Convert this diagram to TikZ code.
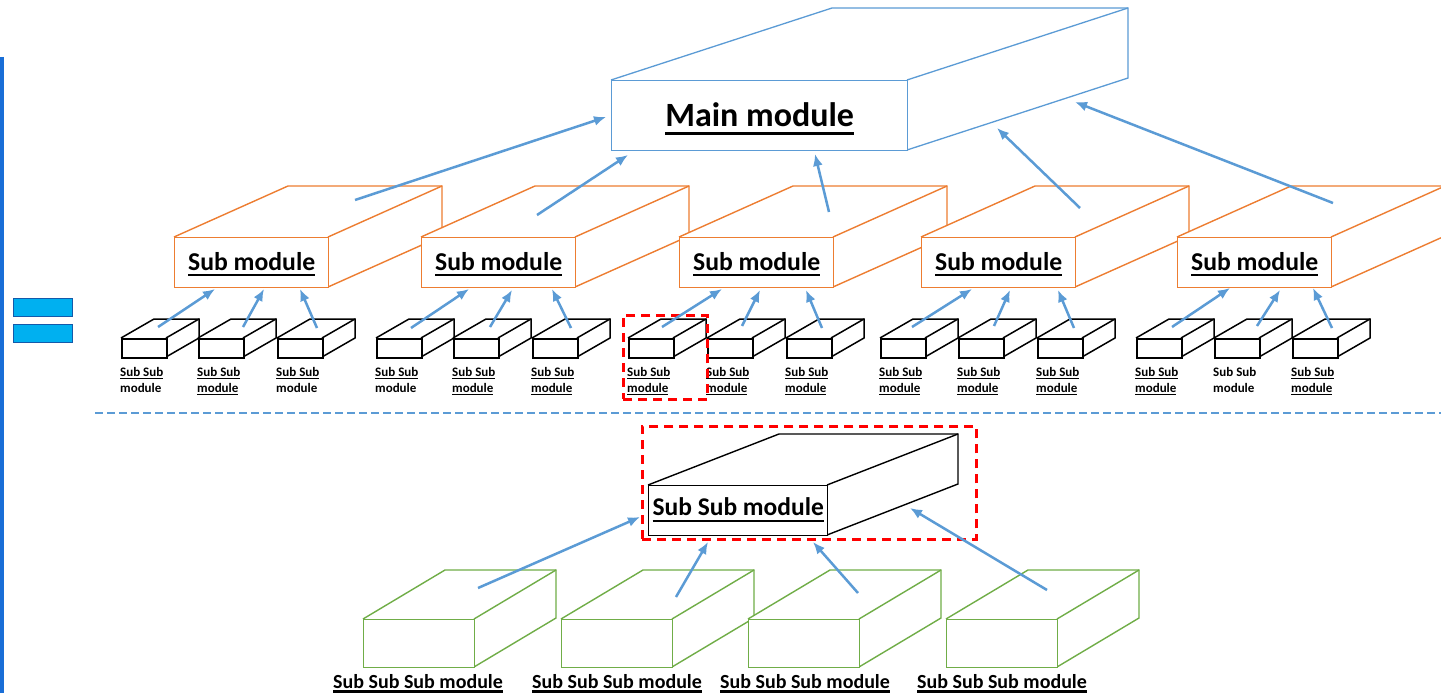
\documentclass[tikz,border=0pt]{standalone}
\usepackage{fontspec}
\setmainfont{Carlito}
\usetikzlibrary{arrows.meta}
\definecolor{mblue}{RGB}{91,155,213}
\definecolor{morange}{RGB}{237,125,49}
\definecolor{mgreen}{RGB}{112,173,71}
\definecolor{lblue}{RGB}{25,110,215}
\definecolor{cyanf}{RGB}{0,176,240}
\definecolor{cyand}{RGB}{20,90,170}
% underline: #1 depth below baseline, #2 thickness, #3 text
\newcommand\ulx[3]{\setbox0\hbox{#3}\leavevmode\rlap{\rule[-#1]{\wd0}{#2}}\box0}
% cuboid: #1 name, #2 x, #3 y (front top), #4 w, #5 h, #6 dx, #7 up, #8 style, #9 text
\newcommand\cuboid[9]{%
  \fill[white] (#2,#3) -- (#2+#6,#3-#7) -- (#2+#4+#6,#3-#7) -- (#2+#4+#6,#3+#5-#7) -- (#2+#4,#3+#5) -- (#2,#3+#5) -- cycle;
  \draw[#8] (#2,#3) -- (#2+#6,#3-#7) -- (#2+#4+#6,#3-#7) -- (#2+#4+#6,#3+#5-#7) -- (#2+#4,#3+#5);
  \draw[#8] (#2+#4,#3) -- (#2+#4+#6,#3-#7);
  \node[#8, draw, fill=white, minimum width=#4pt, minimum height=#5pt, anchor=north west, inner sep=0pt] (#1) at (#2,#3) {#9};
}
\newcommand\smU[1]{\ulx{2.5pt}{1.1pt}{#1}}
\newcommand\labB{\smU{Sub Sub}\\\smU{module}}
\newcommand\labH{\smU{Sub Sub}\\module}
\newcommand\labN{Sub Sub\\module}
% group of three small boxes: #1 id, #2-#4 x, #5-#7 labels
\newcommand\ssg[7]{%
  \cuboid{#1a}{#2}{338}{45}{19}{33}{19}{ssbox}{}
  \cuboid{#1b}{#3}{338}{45}{19}{33}{19}{ssbox}{}
  \cuboid{#1c}{#4}{338}{45}{19}{33}{19}{ssbox}{}
  \node[smalllab] (#1al) at (#2-1,367) {#5};
  \node[smalllab] (#1bl) at (#3-1,367) {#6};
  \node[smalllab] (#1cl) at (#4-1,367) {#7};
}
\tikzset{
  mainbox/.style={draw=mblue, line width=1.3pt, font=\fontsize{34}{40}\selectfont\bfseries, text height=30pt, text depth=8pt},
  subbox/.style={draw=morange, line width=1.4pt, font=\fontsize{25.7}{30}\selectfont\bfseries, text height=22pt, text depth=6pt},
  ssbox/.style={draw=black, line width=1.5pt},
  bigss/.style={draw=black, line width=1.4pt, font=\fontsize{25.5}{30}\selectfont\bfseries, text height=18pt, text depth=8pt},
  grbox/.style={draw=mgreen, line width=1.4pt},
  arr/.style={draw=mblue, line width=2.5pt, -{Latex[length=12pt,width=10pt]}},
  reddash/.style={draw=red, line width=2.8pt, dash pattern=on 9pt off 6pt},
  bluedash/.style={draw=mblue, line width=2pt, dash pattern=on 8pt off 4pt},
  smalllab/.style={font=\fontsize{13}{16}\selectfont\bfseries, align=left, inner sep=0pt, anchor=north west},
  grlab/.style={font=\fontsize{20}{24}\selectfont\bfseries, inner sep=0pt, anchor=base},
  cyanbox/.style={draw=cyand, fill=cyanf, line width=1.2pt, minimum width=59pt, minimum height=18pt, anchor=north west, inner sep=0pt},
}
\begin{document}
\begin{tikzpicture}[x=1pt,y=-1pt]
\useasboundingbox (0,0) rectangle (1441,693);
% left decorations
\coordinate (vtop) at (2,57);
\coordinate (vbot) at (2,693);
\draw[lblue, line width=3.5pt] (vtop) -- (vbot);
\node[cyanbox] (eq1) at (13,298) {};
\node[cyanbox] (eq2) at (13,324) {};
% small sub sub modules
\ssg{ga}{121}{198}{277}{\labH}{\labB}{\labH}
\ssg{gb}{376}{453}{532}{\labH}{\labB}{\labB}
\ssg{gc}{628}{707}{786}{\labB}{\labB}{\labB}
\ssg{gd}{880}{958}{1037}{\labB}{\labB}{\labB}
\ssg{ge}{1136}{1214}{1292}{\labB}{\labN}{\labB}
% sub modules
\cuboid{sub1}{174}{237}{154}{50}{114}{51}{subbox}{\ulx{5.5pt}{2pt}{Sub module}}
\cuboid{sub2}{421}{237}{154}{50}{114}{51}{subbox}{\ulx{5.5pt}{2pt}{Sub module}}
\cuboid{sub3}{679}{237}{154}{50}{114}{51}{subbox}{\ulx{5.5pt}{2pt}{Sub module}}
\cuboid{sub4}{921}{237}{154}{50}{114}{51}{subbox}{\ulx{5.5pt}{2pt}{Sub module}}
\cuboid{sub5}{1177}{237}{154}{50}{114}{51}{subbox}{\ulx{5.5pt}{2pt}{Sub module}}
% main module
\cuboid{main}{611}{80}{296}{70}{221}{72}{mainbox}{\ulx{8pt}{2.8pt}{Main module}}
% separator
\coordinate (sepL) at (95,413);
\coordinate (sepR) at (1441,413);
\draw[bluedash] (sepL) -- (sepR);
% big sub sub module
\cuboid{ssm}{648}{485}{179}{50}{131}{51}{bigss}{\ulx{6pt}{2.2pt}{Sub Sub module}}
% green sub sub sub modules
\cuboid{gr1}{363}{619}{111}{48}{82}{49}{grbox}{}
\cuboid{gr2}{561}{619}{111}{48}{82}{49}{grbox}{}
\cuboid{gr3}{748}{619}{111}{48}{82}{49}{grbox}{}
\cuboid{gr4}{946}{619}{111}{48}{82}{49}{grbox}{}
\node[grlab] (grl1) at (418,688) {\ulx{4.5pt}{2.5pt}{Sub Sub Sub module}};
\node[grlab] (grl2) at (617,688) {\ulx{4.5pt}{2.5pt}{Sub Sub Sub module}};
\node[grlab] (grl3) at (805,688) {\ulx{4.5pt}{2.5pt}{Sub Sub Sub module}};
\node[grlab] (grl4) at (1002,688) {\ulx{4.5pt}{2.5pt}{Sub Sub Sub module}};
% red dashed highlight boxes
\node[reddash, minimum width=334pt, minimum height=113pt, anchor=north west, inner sep=0pt] (focus) at (641,425) {};
\node[reddash, minimum width=84pt, minimum height=84pt, anchor=north west, inner sep=0pt] (pick) at (622,314) {};
% arrow end points
\coordinate (a1s) at (158,327);  \coordinate (a1e) at (215,289);
\coordinate (a2s) at (243,327);  \coordinate (a2e) at (264,289);
\coordinate (a3s) at (317,328);  \coordinate (a3e) at (300,289);
\coordinate (b1s) at (411,328);  \coordinate (b1e) at (469,289);
\coordinate (b2s) at (490,327);  \coordinate (b2e) at (512,290);
\coordinate (b3s) at (571,328);  \coordinate (b3e) at (552,289);
\coordinate (c1s) at (662,327);  \coordinate (c1e) at (722,289);
\coordinate (c2s) at (742,326);  \coordinate (c2e) at (760,290);
\coordinate (c3s) at (822,328);  \coordinate (c3e) at (806,290);
\coordinate (d1s) at (912,327);  \coordinate (d1e) at (972,289);
\coordinate (d2s) at (994,326);  \coordinate (d2e) at (1010,290);
\coordinate (d3s) at (1074,328); \coordinate (d3e) at (1058,290);
\coordinate (e1s) at (1172,327); \coordinate (e1e) at (1230,288);
\coordinate (e2s) at (1257,326); \coordinate (e2e) at (1280,290);
\coordinate (e3s) at (1332,328); \coordinate (e3e) at (1313,288);
\coordinate (m1s) at (355,200);  \coordinate (m1e) at (606,117);
\coordinate (m2s) at (537,215);  \coordinate (m2e) at (628,155);
\coordinate (m3s) at (829,212);  \coordinate (m3e) at (815,154);
\coordinate (m4s) at (1080,208); \coordinate (m4e) at (997,128);
\coordinate (m5s) at (1333,203); \coordinate (m5e) at (1075,102);
\coordinate (g1s) at (478,588);  \coordinate (g1e) at (640,517);
\coordinate (g2s) at (676,597);  \coordinate (g2e) at (708,542);
\coordinate (g3s) at (858,593);  \coordinate (g3e) at (813,542);
\coordinate (g4s) at (1047,590); \coordinate (g4e) at (910,508);
% arrows
\foreach \p in {a1,a2,a3,b1,b2,b3,c1,c2,c3,d1,d2,d3,e1,e2,e3,m1,m2,m3,m4,m5,g1,g2,g3,g4}
  \draw[arr] (\p s) -- (\p e);
\end{tikzpicture}
\end{document}
